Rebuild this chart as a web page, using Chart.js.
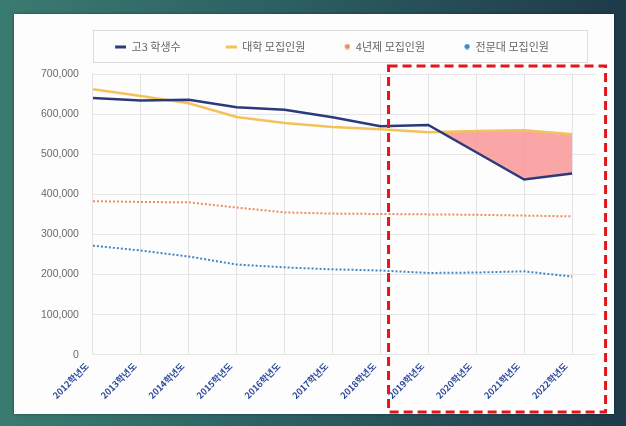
<!DOCTYPE html>
<html>
<head>
<meta charset="utf-8">
<script src="https://cdn.jsdelivr.net/npm/chart.js@4"></script>
<style>
  html, body { margin: 0; padding: 0; }
  body {
    width: 626px; height: 426px; overflow: hidden;
    background: linear-gradient(90deg, #3a7b70 0%, #2c5f63 45%, #1f3a4a 100%);
    position: relative;
  }
  #panel {
    position: absolute; left: 14px; top: 14px; width: 600px; height: 400px;
    background: #fdfdfd;
    box-shadow: 0 0 3px rgba(0,0,0,0.4);
  }
  #graphCanvas { display: block; }
</style>
</head>
<body>
<div id="panel"><canvas id="graphCanvas" width="600" height="400"></canvas></div>
<script>
// 학년도 labels
const years = ['2012학년도', '2013학년도', '2014학년도', '2015학년도', '2016학년도', '2017학년도',
  '2018학년도', '2019학년도', '2020학년도', '2021학년도', '2022학년도'];

const seriesNames = ['고3 학생수', '대학 모집인원', '4년제 모집인원', '전문대 모집인원'];

// values
const highSchool = [640000, 634000, 636000, 617000, 611000, 592000, 570000, 573000, 505000, 437000, 452000];
const univTotal = [662000, 645000, 627000, 593000, 578000, 568000, 562000, 555000, 558000, 560000, 550000];
const fourYear = [383000, 381000, 380000, 367000, 355000, 352000, 351000, 350000, 349000, 347000, 345000];
const college = [272000, 260000, 245000, 225000, 218000, 213000, 210000, 204000, 205000, 208000, 195000];

const yTicks = [0, 100000, 200000, 300000, 400000, 500000, 600000, 700000];
const shadeFrom = 7; // 2019학년도부터 부족분 표시

const colors = ['#2b3a7c', '#f4c25a', '#ee8a5c', '#3f86c4'];

const MARK_W = 34;

// legend markers, drawn at the right end of a fixed-width box
function marker(kind, color) {
  const c = document.createElement('canvas');
  c.width = MARK_W; c.height = 6;
  const g = c.getContext('2d');
  g.fillStyle = color;
  if (kind === 'line') {
    g.fillRect(MARK_W - 11, 2, 11, 3);
  } else {
    g.beginPath();
    g.arc(MARK_W - 3, 3, 2.6, 0, Math.PI * 2);
    g.fill();
  }
  return c;
}

const toPts = arr => arr.map((v, i) => ({ x: i, y: v }));

const ctx = document.getElementById('graphCanvas').getContext('2d');

const LEGEND_GAP = 12;
const LEGEND_SHIFT = 9;

// extra room under the legend, and nudge its row to the right
const legendGap = {
  id: 'legendGap',
  beforeLayout(chart) {
    const lg = chart.legend;
    if (lg && !lg._gapPatched) {
      const fit = lg.fit;
      lg.fit = function () { fit.apply(this, arguments); this.height += LEGEND_GAP; };
      lg._gapPatched = true;
    }
  },
  afterLayout(chart) {
    const lg = chart.legend;
    if (lg) { lg.left += LEGEND_SHIFT; lg.right += LEGEND_SHIFT; }
  }
};

const legendBox = {
  id: 'legendBox',
  afterDraw(chart) {
    const l = chart.legend, a = chart.chartArea, c = chart.ctx;
    c.save();
    c.strokeStyle = '#dcdcdc';
    c.lineWidth = 1;
    c.strokeRect(a.left + 0.5, l.top + 0.5, a.right - a.left - 9, l.height - LEGEND_GAP);
    c.restore();
  }
};

const redBox = {
  id: 'redBox',
  afterDraw(chart) {
    const x = chart.scales.x, y = chart.scales.y, c = chart.ctx;
    const left = x.getPixelForValue(6.17);
    const right = x.getPixelForValue(10.7);
    const top = y.getPixelForValue(720000);
    const bottom = chart.height - 2;
    c.save();
    c.strokeStyle = '#e5141c';
    c.lineWidth = 3;
    c.setLineDash([9, 5]);
    c.strokeRect(left, top, right - left, bottom - top);
    c.restore();
  }
};

new Chart(ctx, {
  type: 'line',
  data: {
    datasets: [
      {
        label: seriesNames[0], data: toPts(highSchool),
        borderColor: colors[0], borderWidth: 2.5,
        pointStyle: marker('line', colors[0])
      },
      {
        label: seriesNames[1], data: toPts(univTotal),
        borderColor: colors[1], borderWidth: 2.5,
        pointStyle: marker('line', colors[1])
      },
      {
        label: seriesNames[2], data: toPts(fourYear),
        borderColor: colors[2], borderWidth: 2, borderDash: [2, 2],
        pointStyle: marker('dot', colors[2])
      },
      {
        label: seriesNames[3], data: toPts(college),
        borderColor: colors[3], borderWidth: 2, borderDash: [2, 2],
        pointStyle: marker('dot', colors[3])
      },
      {
        label: 'gap',
        data: highSchool.map((v, i) => ({ x: i, y: i >= shadeFrom ? v : null })),
        borderWidth: 0, borderColor: 'transparent',
        fill: { target: 1, above: 'rgba(0,0,0,0)', below: 'rgba(249,150,150,0.85)' }
      }
    ]
  },
  options: {
    responsive: false,
    animation: false,
    elements: { point: { radius: 0, hoverRadius: 0 }, line: { tension: 0 } },
    layout: { padding: { left: 13, right: 18, top: 16, bottom: 7 } },
    scales: {
      x: {
        type: 'linear', min: 0, max: 10.5,
        border: { display: false },
        grid: {
          color: c => Number.isInteger(c.tick.value) ? '#e3e3e3' : 'rgba(0,0,0,0)',
          drawTicks: false
        },
        ticks: {
          stepSize: 1, autoSkip: false,
          minRotation: 45, maxRotation: 45, padding: 6, labelOffset: -6,
          color: '#2d4a9c',
          font: { family: 'Noto Sans CJK KR', size: 9, weight: 'bold' },
          callback: v => Number.isInteger(v) ? years[v] : ''
        }
      },
      y: {
        min: 0, max: 700000,
        border: { display: false },
        grid: { color: '#e6e6e6', drawTicks: false },
        afterBuildTicks: s => { s.ticks = yTicks.map(v => ({ value: v })); },
        ticks: {
          padding: 14, color: '#6a6a6a',
          font: { family: 'Liberation Sans', size: 10.5 },
          callback: v => v.toLocaleString('en-US')
        }
      }
    },
    plugins: {
      legend: {
        display: true,
        labels: {
          usePointStyle: true, pointStyleWidth: MARK_W, boxHeight: 6,
          padding: 11, color: '#666',
          font: { family: 'Noto Sans CJK KR', size: 11 },
          filter: item => item.datasetIndex < 4,
          // wider gap after the first item, as in the original legend
          generateLabels: chart => {
            const items = Chart.defaults.plugins.legend.labels.generateLabels(chart);
            items[0].text += '\u3000';
            return items;
          }
        }
      },
      tooltip: { enabled: false }
    }
  },
  plugins: [legendGap, legendBox, redBox]
});
</script>
</body>
</html>
